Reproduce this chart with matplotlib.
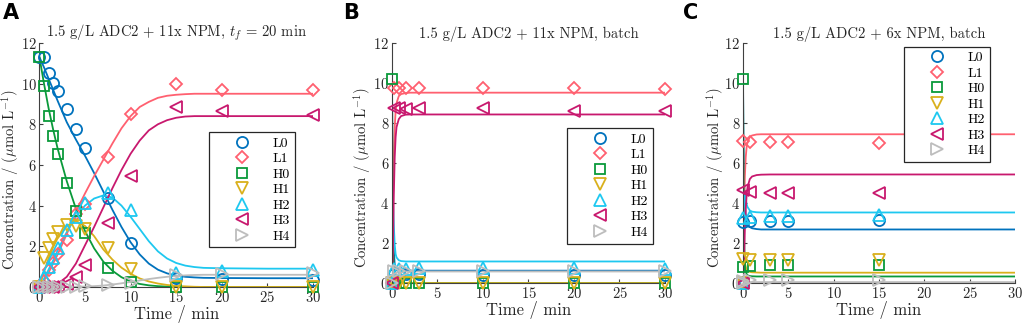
import matplotlib
matplotlib.use('Agg')
import matplotlib.pyplot as plt

plt.rcParams['font.family'] = ['cmr10', 'DejaVu Serif']
plt.rcParams['mathtext.fontset'] = 'cm'
plt.rcParams['axes.unicode_minus'] = False
plt.rcParams['axes.formatter.use_mathtext'] = True

species = ['L0', 'L1', 'H0', 'H1', 'H2', 'H3', 'H4']
colors = ['#0072BD', '#FF6070', '#0A9A3A', '#D9B01C', '#1EC8F0', '#C8186E', '#BDBDBD']
markers = ['o', 'D', 's', 'v', '^', '<', '>']
msizes = [8, 6.5, 6.5, 8.5, 8.5, 8.5, 8.5]

titles = ['1.5 g/L ADC2 + 11x NPM, $t_f$ = 20 min',
          '1.5 g/L ADC2 + 11x NPM, batch',
          '1.5 g/L ADC2 + 6x NPM, batch']
panel_labels = ['A', 'B', 'C']

# panel A - measured
tA = [0, 0.5, 1, 1.5, 2, 3, 4, 5, 7.5, 10, 15, 20, 30]
L0_A = [11.3, 11.3, 10.5, 10.05, 9.65, 8.75, 7.75, 6.85, 4.35, 2.15, 0.45, 0.4, 0.35]
L1_A = [0.0, 0.3, 0.85, 1.2, 1.6, 2.3, 3.6, 4.1, 6.4, 8.5, 10.0, 9.7, 9.7]
H0_A = [11.3, 9.9, 8.4, 7.4, 6.55, 5.1, 3.75, 2.65, 0.95, 0.25, 0.0, 0.0, 0.0]
H1_A = [0.0, 1.4, 1.9, 2.35, 2.7, 3.05, 3.0, 2.85, 1.9, 0.9, 0.0, 0.0, 0.0]
H2_A = [0.0, 0.5, 1.0, 1.4, 1.9, 2.8, 3.45, 4.15, 4.6, 3.8, 0.7, 0.8, 0.85]
H3_A = [0, 0, 0, 0, 0.05, 0.15, 0.5, 1.1, 3.15, 5.45, 8.85, 8.65, 8.45]
H4_A = [0, 0, 0, 0, 0, 0, 0.02, 0.03, 0.1, 0.2, 0.6, 0.65, 0.7]

# panel A - model
tA_fit = [0, 0.5, 1, 1.5, 2, 3, 4, 5, 6, 7, 8, 9, 10, 11, 12, 13, 14, 15, 16, 17, 18, 20, 25, 30]
L0_fitA = [11.3, 10.8, 10.25, 9.7, 9.15, 8.1, 7.25, 6.45, 5.6, 4.7, 3.8, 2.95, 2.2, 1.6, 1.15, 0.85, 0.67, 0.56, 0.5, 0.47, 0.45, 0.44, 0.43, 0.43]
L1_fitA = [0, 0.3, 0.7, 1.15, 1.6, 2.6, 3.7, 4.6, 5.45, 6.25, 7.05, 7.8, 8.4, 8.85, 9.1, 9.3, 9.4, 9.45, 9.48, 9.5, 9.5, 9.5, 9.5, 9.5]
H0_fitA = [11.3, 10.0, 8.8, 7.75, 6.8, 5.2, 3.85, 2.75, 1.9, 1.25, 0.8, 0.48, 0.27, 0.15, 0.08, 0.04, 0.02, 0.01, 0, 0, 0, 0, 0, 0]
H1_fitA = [0, 0.75, 1.4, 1.95, 2.4, 3.0, 3.25, 3.0, 2.5, 1.85, 1.35, 0.95, 0.65, 0.42, 0.27, 0.17, 0.1, 0.05, 0.03, 0.01, 0, 0, 0, 0]
H2_fitA = [0, 0.4, 0.85, 1.3, 1.8, 2.7, 3.45, 4.0, 4.35, 4.5, 4.4, 4.0, 3.45, 2.85, 2.25, 1.75, 1.4, 1.18, 1.05, 0.98, 0.94, 0.92, 0.9, 0.9]
H3_fitA = [0, 0, 0.02, 0.06, 0.15, 0.5, 1.15, 2.05, 2.95, 3.9, 4.85, 5.75, 6.55, 7.2, 7.7, 8.0, 8.2, 8.32, 8.38, 8.4, 8.4, 8.4, 8.4, 8.4]
H4_fitA = [0, 0, 0, 0, 0, 0, 0.01, 0.02, 0.04, 0.07, 0.12, 0.18, 0.25, 0.32, 0.39, 0.45, 0.5, 0.54, 0.57, 0.59, 0.6, 0.6, 0.6, 0.6]

# panel B - measured
tB = [0, 0.25, 0.75, 1.5, 3, 10, 20, 30]
L0_B = [0, 0.45, 0.45, 0.45, 0.45, 0.42, 0.42, 0.42]
L1_B = [0, 9.75, 9.75, 9.75, 9.75, 9.75, 9.75, 9.72]
H0_B = [10.2, 0, 0, 0, 0, 0, 0, 0]
H1_B = [0, 0, 0, 0, 0, 0, 0, 0]
H2_B = [0, 0.7, 0.7, 0.7, 0.75, 0.75, 0.75, 0.7]
H3_B = [0, 8.75, 8.75, 8.7, 8.75, 8.75, 8.6, 8.6]
H4_B = [0, 0.6, 0.6, 0.6, 0.6, 0.6, 0.6, 0.6]

# panel B - model
tB_fit = [0, 0.05, 0.1, 0.15, 0.2, 0.3, 0.4, 0.5, 0.75, 1, 1.5, 2, 3, 5, 10, 30]
L0_fitB = [10.2, 6.4, 3.9, 2.4, 1.6, 0.95, 0.75, 0.68, 0.64, 0.63, 0.62, 0.62, 0.62, 0.62, 0.62, 0.62]
L1_fitB = [0, 1.6, 3.6, 5.2, 6.4, 7.8, 8.6, 9.0, 9.35, 9.45, 9.5, 9.52, 9.52, 9.52, 9.52, 9.52]
H0_fitB = [10.2, 6.0, 3.2, 1.6, 0.8, 0.2, 0.05, 0.01, 0, 0, 0, 0, 0, 0, 0, 0]
H1_fitB = [0, 0.6, 0.45, 0.25, 0.12, 0.04, 0.01, 0, 0, 0, 0, 0, 0, 0, 0, 0]
H2_fitB = [0, 3.0, 4.1, 3.6, 2.9, 1.9, 1.45, 1.28, 1.14, 1.1, 1.08, 1.08, 1.08, 1.08, 1.08, 1.08]
H3_fitB = [0, 0.3, 1.4, 2.9, 4.4, 6.3, 7.3, 7.8, 8.2, 8.35, 8.42, 8.43, 8.43, 8.43, 8.43, 8.43]
H4_fitB = [0, 0, 0.03, 0.1, 0.2, 0.38, 0.48, 0.53, 0.56, 0.57, 0.58, 0.58, 0.58, 0.58, 0.58, 0.58]

# panel C - measured
tC = [0, 0.05, 0.75, 3, 5, 15]
L0_C = [0, 3.05, 3.1, 3.1, 3.1, 3.15]
L1_C = [0, 7.1, 7.05, 7.05, 7.05, 7.0]
H0_C = [10.2, 0.8, 0.85, 0.9, 0.9, 0.9]
H1_C = [0, 1.2, 1.15, 1.15, 1.15, 1.15]
H2_C = [0, 3.25, 3.3, 3.35, 3.35, 3.4]
H3_C = [0, 4.65, 4.55, 4.5, 4.5, 4.5]
H4_C = [0, 0.1, 0.15, 0.15, 0.15, 0.13]

# panel C - model
tC_fit = [0, 0.05, 0.1, 0.15, 0.2, 0.3, 0.4, 0.5, 0.75, 1, 1.5, 2, 3, 5, 10, 30]
L0_fitC = [10.2, 7.0, 5.5, 4.6, 4.0, 3.4, 3.1, 2.95, 2.8, 2.74, 2.7, 2.68, 2.68, 2.68, 2.68, 2.68]
L1_fitC = [0, 1.5, 3.2, 4.4, 5.3, 6.3, 6.8, 7.05, 7.3, 7.38, 7.43, 7.44, 7.44, 7.44, 7.44, 7.44]
H0_fitC = [10.2, 5.6, 2.9, 1.7, 1.05, 0.6, 0.45, 0.39, 0.35, 0.34, 0.33, 0.33, 0.33, 0.33, 0.33, 0.33]
H1_fitC = [0, 1.8, 1.5, 1.2, 1.0, 0.8, 0.68, 0.62, 0.56, 0.54, 0.53, 0.52, 0.52, 0.52, 0.52, 0.52]
H2_fitC = [0, 2.5, 3.8, 4.3, 4.4, 4.2, 3.95, 3.8, 3.63, 3.57, 3.54, 3.53, 3.53, 3.53, 3.53, 3.53]
H3_fitC = [0, 0.2, 0.9, 1.8, 2.6, 3.7, 4.4, 4.8, 5.2, 5.33, 5.4, 5.42, 5.43, 5.43, 5.43, 5.43]
H4_fitC = [0, 0, 0.01, 0.02, 0.03, 0.04, 0.05, 0.05, 0.05, 0.05, 0.05, 0.05, 0.05, 0.05, 0.05, 0.05]

panels = [
    (tA, [L0_A, L1_A, H0_A, H1_A, H2_A, H3_A, H4_A],
     tA_fit, [L0_fitA, L1_fitA, H0_fitA, H1_fitA, H2_fitA, H3_fitA, H4_fitA]),
    (tB, [L0_B, L1_B, H0_B, H1_B, H2_B, H3_B, H4_B],
     tB_fit, [L0_fitB, L1_fitB, H0_fitB, H1_fitB, H2_fitB, H3_fitB, H4_fitB]),
    (tC, [L0_C, L1_C, H0_C, H1_C, H2_C, H3_C, H4_C],
     tC_fit, [L0_fitC, L1_fitC, H0_fitC, H1_fitC, H2_fitC, H3_fitC, H4_fitC]),
]

# axes boxes in figure fraction (left, bottom, width, height)
boxes = [(0.0385, 0.117, 0.2671, 0.751),
         (0.3828, 0.129, 0.2666, 0.7385),
         (0.7256, 0.129, 0.2656, 0.7385)]
legend_anchor = [(0.62, 0.635), (0.642, 0.645), (0.592, 0.985)]
ylabel_x = [-0.068, -0.068, -0.064]
label_x = [0.003, 0.335, 0.667]

axc = '#404040'
fig = plt.figure(figsize=(10.24, 3.25), dpi=100)
for i in range(3):
    ax = fig.add_axes(boxes[i])
    t, meas, t_fit, fits = panels[i]
    for k in range(7):
        ax.plot(t_fit, fits[k], '-', color=colors[k], lw=1.3, zorder=2)
    for k in range(7):
        ax.plot(t, meas[k], linestyle='none', marker=markers[k], ms=msizes[k],
                mfc='none', mec=colors[k], mew=1.3, label=species[k],
                clip_on=False, zorder=3)
    ax.set_xlim(0, 30)
    ax.set_ylim(0, 12)
    ax.set_xticks([0, 5, 10, 15, 20, 25, 30])
    ax.set_yticks([0, 2, 4, 6, 8, 10, 12])
    ax.spines['top'].set_visible(False)
    ax.spines['right'].set_visible(False)
    for s in ['left', 'bottom']:
        ax.spines[s].set_color(axc)
        ax.spines[s].set_linewidth(0.8)
    ax.tick_params(direction='in', length=3, width=0.8, colors=axc,
                   labelsize=10.5, labelcolor='#262626', pad=2)
    ax.set_title(titles[i], fontsize=10.5, color='#262626', pad=4)
    ax.set_xlabel('Time / min', fontsize=12, color='#262626', labelpad=0)
    ax.set_ylabel(r'Concentration / ($\mu$mol L$^{-1}$)', fontsize=10.5,
                  color='#262626')
    ax.yaxis.set_label_coords(ylabel_x[i], 0.44)
    leg = ax.legend(loc='upper left', bbox_to_anchor=legend_anchor[i],
                    fontsize=10, frameon=True, fancybox=False, framealpha=1,
                    edgecolor='#262626', handlelength=4, handletextpad=0.2,
                    borderpad=0.35, labelspacing=0.2, borderaxespad=0)
    leg.get_frame().set_linewidth(0.9)
    fig.text(label_x[i], 0.99, panel_labels[i], fontsize=15, fontweight='bold',
             family='DejaVu Sans', va='top', ha='left')

plt.savefig('out.png', dpi=100)
